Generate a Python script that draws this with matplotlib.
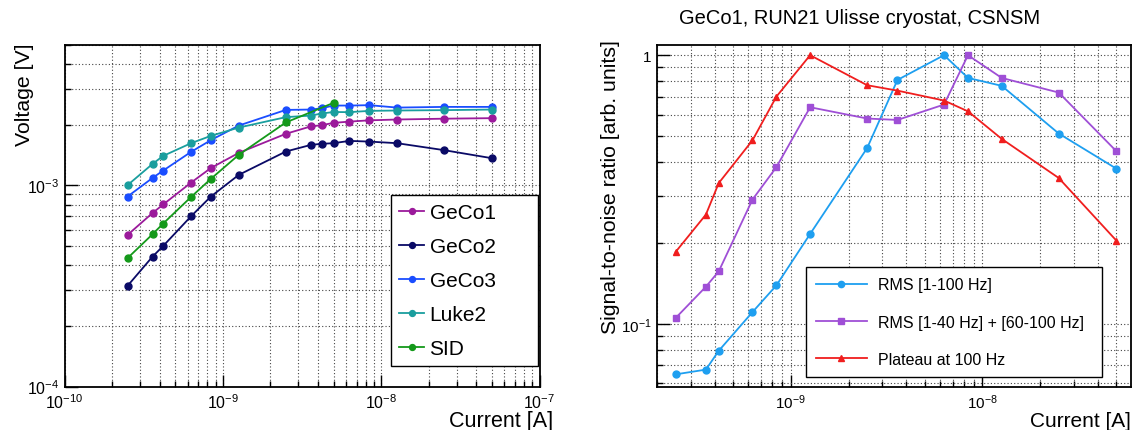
import math
import matplotlib
matplotlib.use("Agg")
import matplotlib.pyplot as plt
from matplotlib.ticker import LogLocator, NullFormatter, FuncFormatter

plt.rcParams['font.family'] = ['Liberation Sans', 'DejaVu Sans']
plt.rcParams['mathtext.fontset'] = 'custom'
plt.rcParams['mathtext.rm'] = 'Liberation Sans'
plt.rcParams['mathtext.it'] = 'Liberation Sans:italic'
plt.rcParams['mathtext.bf'] = 'Liberation Sans:bold'

# ---------------- Left panel data ----------------
current = [2.5e-10, 3.6e-10, 4.2e-10, 6.3e-10, 8.4e-10, 1.26e-9, 2.5e-9, 3.6e-9,
           4.2e-9, 5.0e-9, 6.3e-9, 8.4e-9, 1.26e-8, 2.5e-8, 5.0e-8]
geco1 = [5.66e-4, 7.28e-4, 8.02e-4, 1.03e-3, 1.217e-3, 1.447e-3, 1.80e-3, 1.96e-3,
         1.986e-3, 2.04e-3, 2.07e-3, 2.10e-3, 2.12e-3, 2.14e-3, 2.153e-3]
geco2 = [3.16e-4, 4.42e-4, 4.99e-4, 7.01e-4, 8.78e-4, 1.125e-3, 1.47e-3, 1.586e-3,
         1.605e-3, 1.617e-3, 1.66e-3, 1.647e-3, 1.617e-3, 1.493e-3, 1.362e-3]
geco3 = [8.78e-4, 1.087e-3, 1.182e-3, 1.464e-3, 1.674e-3, 1.978e-3, 2.366e-3, 2.376e-3,
         2.41e-3, 2.487e-3, 2.487e-3, 2.498e-3, 2.43e-3, 2.449e-3, 2.449e-3]
luke2 = [1.0e-3, 1.276e-3, 1.398e-3, 1.617e-3, 1.758e-3, 1.933e-3, 2.178e-3, 2.218e-3,
         2.27e-3, 2.31e-3, 2.306e-3, 2.34e-3, 2.35e-3, 2.36e-3, 2.376e-3]
sid_current = [2.5e-10, 3.6e-10, 4.2e-10, 6.3e-10, 8.4e-10, 1.26e-9, 2.5e-9, 5.0e-9]
sid = [4.34e-4, 5.71e-4, 6.45e-4, 8.74e-4, 1.075e-3, 1.415e-3, 2.05e-3, 2.565e-3]

left_labels = ["GeCo1", "GeCo2", "GeCo3", "Luke2", "SID"]
left_colors = ["#9b1a9b", "#0a0a66", "#1a4dff", "#1a9e9e", "#14991a"]

# ---------------- Right panel data ----------------
snr_current = [2.5e-10, 3.6e-10, 4.2e-10, 6.3e-10, 8.4e-10, 1.26e-9, 2.5e-9, 3.6e-9,
               6.3e-9, 8.4e-9, 1.26e-8, 2.5e-8, 5.0e-8]
rms_1_100 = [0.0648, 0.0675, 0.0793, 0.1105, 0.139, 0.216, 0.451, 0.809,
             1.0, 0.823, 0.769, 0.511, 0.378]
rms_notch = [0.105, 0.1374, 0.1567, 0.290, 0.383, 0.640, 0.581, 0.574,
             0.655, 1.0, 0.823, 0.726, 0.439]
plateau = [0.185, 0.255, 0.334, 0.482, 0.701, 1.0, 0.773, 0.738,
           0.678, 0.618, 0.488, 0.349, 0.204]
right_labels = ["RMS [1-100 Hz]", "RMS [1-40 Hz] + [60-100 Hz]", "Plateau at 100 Hz"]
right_colors = ["#1e9ff0", "#9f4fd6", "#f01e1e"]
right_markers = ["o", "s", "^"]
title_right = "GeCo1, RUN21 Ulisse cryostat, CSNSM"

W, H = 1133, 431
fig = plt.figure(figsize=(W / 100, H / 100), dpi=100)

def fx(px):
    return px / W

def fy(py):
    return 1 - py / H

axL = fig.add_axes([fx(64.5), fy(387.5), fx(475), 342 / H])
axR = fig.add_axes([fx(657), fy(387.5), fx(474), 342 / H])

grid_kw = dict(color='#444444', linestyle=(0, (1, 2)), linewidth=0.8)

def style(ax, tick_fs):
    ax.set_xscale('log')
    ax.set_yscale('log')
    for s in ax.spines.values():
        s.set_linewidth(1.3)
    ax.tick_params(which='both', direction='in', top=False, right=False,
                   labelsize=tick_fs, width=1.0, pad=4)
    ax.tick_params(which='major', length=9)
    ax.tick_params(which='minor', length=4.5)
    ax.xaxis.set_major_locator(LogLocator(base=10, numticks=20))
    ax.xaxis.set_minor_locator(LogLocator(base=10, subs=range(2, 10), numticks=20))
    ax.yaxis.set_major_locator(LogLocator(base=10, numticks=20))
    ax.yaxis.set_minor_locator(LogLocator(base=10, subs=range(2, 10), numticks=20))
    ax.xaxis.set_minor_formatter(NullFormatter())
    ax.yaxis.set_minor_formatter(NullFormatter())
    ax.grid(True, which='both', **grid_kw)
    ax.set_axisbelow(True)

# ---------- Left ----------
style(axL, 11.5)
series = [(current, geco1), (current, geco2), (current, geco3), (current, luke2), (sid_current, sid)]
for (xs, ys), lab, col in zip(series, left_labels, left_colors):
    axL.plot(xs, ys, '-o', color=col, lw=1.3, ms=5, label=lab, zorder=3)
axL.set_xlim(1e-10, 1e-7)
axL.set_ylim(1e-4, 5e-3)

legL = axL.legend(loc='upper left',
                  bbox_to_anchor=(fx(391), fy(365.7), fx(147), (365.7 - 195.7) / H),
                  bbox_transform=fig.transFigure, mode='expand', fontsize=15, frameon=True,
                  fancybox=False, edgecolor='black', framealpha=1,
                  borderaxespad=0, handlelength=1.2, handletextpad=0.25,
                  labelspacing=0.72, borderpad=0.4, markerscale=0.85)
legL.get_frame().set_linewidth(1.0)

fig.text(fx(25), fy(44), "Voltage [V]", rotation=90, ha='center', va='top', fontsize=15.3)
fig.text(fx(553), fy(427.5), "Current [A]", ha='right', va='baseline', fontsize=15.5)

# ---------- Right ----------
style(axR, 11)
for ys, lab, col, mk in zip([rms_1_100, rms_notch, plateau], right_labels, right_colors, right_markers):
    axR.plot(snr_current, ys, '-', marker=mk, color=col, lw=1.3,
             ms=5 if mk != '^' else 4.5, label=lab, zorder=3)
axR.set_xlim(2.0e-10, 5.96e-8)
axR.set_ylim(0.0584, 1.096)

def rfmt(v, pos):
    if abs(v - 1) < 1e-9:
        return "1"
    e = int(round(math.log10(v)))
    return r"$\mathregular{10^{%d}}$" % e
axR.yaxis.set_major_formatter(FuncFormatter(rfmt))

legR = axR.legend(loc='upper left',
                  bbox_to_anchor=(fx(805.7), fy(379), fx(296), (379 - 268.3) / H),
                  bbox_transform=fig.transFigure, mode='expand', fontsize=11.5, frameon=True,
                  fancybox=False, edgecolor='black', framealpha=1,
                  borderaxespad=0, handlelength=3.2, handletextpad=0.7,
                  labelspacing=1.4, borderpad=0.62, markerscale=0.9)
legR.get_frame().set_linewidth(1.0)

fig.text(fx(611), fy(40), "Signal-to-noise ratio [arb. units]", rotation=90,
         ha='center', va='top', fontsize=15.3)
fig.text(fx(1131), fy(427), "Current [A]", ha='right', va='baseline', fontsize=15)
fig.text(fx(860), fy(18), title_right, ha='center', va='center', fontsize=14.5)

fig.savefig("out.png", dpi=100)
